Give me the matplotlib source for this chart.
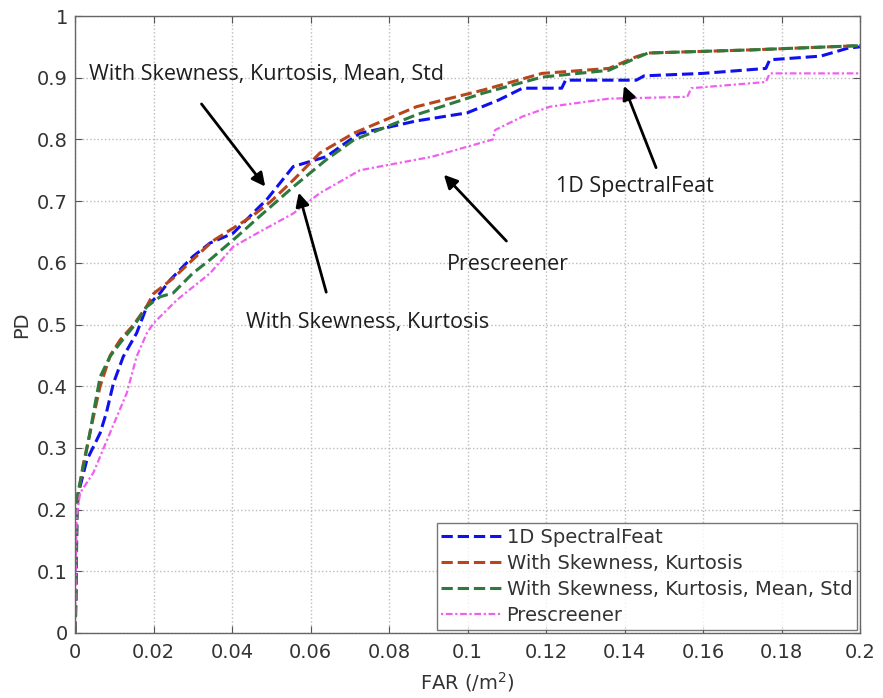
import matplotlib
matplotlib.use("Agg")
import matplotlib.pyplot as plt

# ---- data ----
blue_x = [0, 0.0003, 0.0005, 0.001, 0.003, 0.0064, 0.008, 0.0098, 0.0123, 0.0157, 0.0183, 0.0217, 0.0242,
          0.03, 0.0344, 0.0403, 0.047, 0.0488, 0.0556, 0.064, 0.070, 0.0726, 0.08, 0.087, 0.0999, 0.108,
          0.114, 0.124, 0.125, 0.143, 0.145, 0.160, 0.176, 0.177, 0.190, 0.197, 0.2]
blue_y = [0, 0.1, 0.2, 0.23, 0.28, 0.324, 0.357, 0.405, 0.448, 0.486, 0.529, 0.551, 0.572,
          0.61, 0.632, 0.648, 0.691, 0.702, 0.756, 0.772, 0.799, 0.81, 0.82, 0.83, 0.843, 0.864,
          0.883, 0.883, 0.896, 0.896, 0.903, 0.907, 0.915, 0.929, 0.935, 0.948, 0.95]

red_x = [0, 0.0003, 0.0005, 0.002, 0.004, 0.0064, 0.009, 0.0115, 0.015, 0.0183, 0.02, 0.025, 0.03,
         0.035, 0.04, 0.045, 0.05, 0.0556, 0.0624, 0.071, 0.087, 0.104, 0.119, 0.136, 0.143, 0.146,
         0.172, 0.2]
red_y = [0, 0.1, 0.21, 0.27, 0.33, 0.40, 0.45, 0.475, 0.50, 0.53, 0.55, 0.575, 0.605,
         0.635, 0.655, 0.675, 0.70, 0.734, 0.778, 0.81, 0.853, 0.880, 0.907, 0.915, 0.934, 0.940,
         0.945, 0.952]

green_x = [0, 0.0003, 0.0005, 0.0021, 0.0038, 0.0047, 0.0064, 0.0089, 0.0115, 0.0148, 0.0183, 0.0217,
           0.025, 0.03, 0.0344, 0.0412, 0.047, 0.0556, 0.064, 0.071, 0.087, 0.104, 0.119, 0.136,
           0.143, 0.146, 0.172, 0.2]
green_y = [0, 0.05, 0.22, 0.269, 0.324, 0.357, 0.415, 0.448, 0.47, 0.496, 0.529, 0.545,
           0.551, 0.583, 0.605, 0.642, 0.675, 0.723, 0.767, 0.799, 0.84, 0.875, 0.901, 0.912,
           0.932, 0.940, 0.945, 0.952]

pink_x = [0, 0.0004, 0.0013, 0.0047, 0.0089, 0.0132, 0.0157, 0.0183, 0.02, 0.026, 0.0344, 0.0403,
          0.047, 0.0556, 0.0624, 0.0726, 0.091, 0.1065, 0.107, 0.114, 0.121, 0.136, 0.156, 0.157,
          0.176, 0.177, 0.2]
pink_y = [0, 0.188, 0.227, 0.26, 0.324, 0.389, 0.448, 0.486, 0.502, 0.54, 0.583, 0.626,
          0.65, 0.68, 0.713, 0.75, 0.772, 0.80, 0.815, 0.837, 0.853, 0.866, 0.869, 0.883,
          0.893, 0.907, 0.907]

labels = ["1D SpectralFeat", "With Skewness, Kurtosis",
          "With Skewness, Kurtosis, Mean, Std", "Prescreener"]
xticks = [0, 0.02, 0.04, 0.06, 0.08, 0.1, 0.12, 0.14, 0.16, 0.18, 0.2]
xticklabels = ["0", "0.02", "0.04", "0.06", "0.08", "0.1", "0.12", "0.14", "0.16", "0.18", "0.2"]
yticks = [0, 0.1, 0.2, 0.3, 0.4, 0.5, 0.6, 0.7, 0.8, 0.9, 1]
yticklabels = ["0", "0.1", "0.2", "0.3", "0.4", "0.5", "0.6", "0.7", "0.8", "0.9", "1"]

plt.rcParams['font.family'] = ['DejaVu Sans']

fig = plt.figure(figsize=(8.83, 6.98), dpi=100)
ax = fig.add_axes([75/883, 65/698, 785/883, 617/698])

ax.plot(blue_x, blue_y, color='#1010ee', ls='--', lw=2.2, label=labels[0])
ax.plot(red_x, red_y, color='#b8461c', ls='--', lw=2.2, label=labels[1])
ax.plot(green_x, green_y, color='#2e7a3e', ls='--', lw=2.2, label=labels[2])
ax.plot(pink_x, pink_y, color='#f060f0', ls=(0, (1, 1.2, 3, 1.2)), lw=1.6, label=labels[3])

ax.set_xlim(0, 0.2)
ax.set_ylim(0, 1)
ax.set_xticks(xticks)
ax.set_xticklabels(xticklabels)
ax.set_yticks(yticks)
ax.set_yticklabels(yticklabels)
ax.tick_params(direction='in', top=True, right=True, labelsize=14, length=5, color='#555555',
               labelcolor='#333333')
ax.tick_params(axis='x', pad=7)
ax.tick_params(axis='y', pad=5)
ax.grid(True, ls=':', color='#bbbbbb', lw=1.0)
for s in ax.spines.values():
    s.set_color('#666666')
    s.set_linewidth(1.0)

ax.set_xlabel("FAR (/m$^2$)", fontsize=14, color='#333333', labelpad=6)
ax.set_ylabel("PD", fontsize=14, color='#333333', labelpad=4)

leg = ax.legend(loc='lower right', fontsize=14, frameon=True, fancybox=False,
                handlelength=3.1, handletextpad=0.25, borderpad=0.25, labelspacing=0.37,
                borderaxespad=0.15)
leg.get_frame().set_edgecolor('#555555')
leg.get_frame().set_linewidth(1.0)
for t in leg.get_texts():
    t.set_color('#333333')

afont = dict(fontsize=15.5, family=['Open Sans', 'DejaVu Sans'], color='#1e1e1e')
arrow = dict(arrowstyle='-|>', color='black', lw=2, mutation_scale=20)

ax.annotate("", xy=(0.0489, 0.72), xytext=(0.0318, 0.861), arrowprops=arrow)
ax.text(0.0035, 0.905, labels[2], ha='left', va='center', **afont)

ax.annotate("", xy=(0.0568, 0.718), xytext=(0.0642, 0.548), arrowprops=arrow)
ax.text(0.0746, 0.503, labels[1], ha='center', va='center', **afont)

ax.annotate("", xy=(0.0935, 0.746), xytext=(0.1104, 0.632), arrowprops=arrow)
ax.text(0.1103, 0.598, labels[3], ha='center', va='center', **afont)

ax.annotate("", xy=(0.1396, 0.891), xytext=(0.1483, 0.75), arrowprops=arrow)
ax.text(0.1427, 0.724, labels[0], ha='center', va='center', **afont)

fig.savefig("out.png", dpi=100)
